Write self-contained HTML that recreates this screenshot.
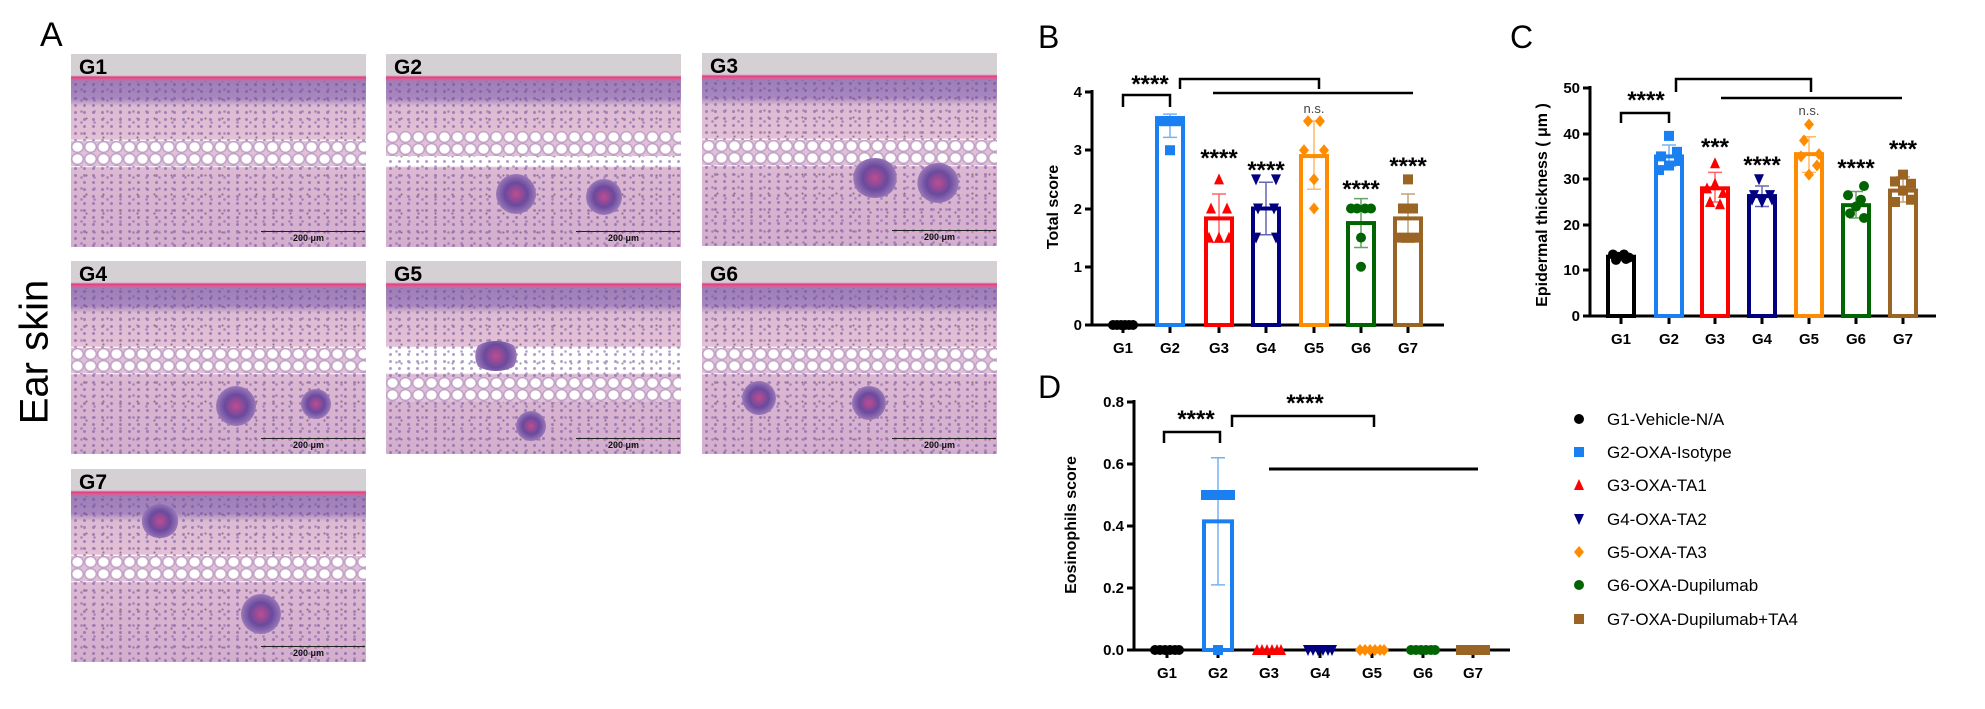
<!DOCTYPE html>
<html><head><meta charset="utf-8">
<style>
html,body{margin:0;padding:0;background:#fff;}
body{width:1985px;height:709px;position:relative;overflow:hidden;font-family:"Liberation Sans",Arial,sans-serif;}
.img{position:absolute;width:295px;height:193px;overflow:hidden;
background:
 linear-gradient(to bottom,#d4d0d4 0,#d4d0d4 11%,#e0407f 12%,#e25a95 13%,#9f7db6 14%,#a886bf 23%,#dcbad2 27%,#e3c0d5 44%,rgba(0,0,0,0) 45%,rgba(0,0,0,0) 58%,#dcb8d2 59%,#d4aece 100%);
}
.img .sp{position:absolute;left:0;right:0;top:14%;bottom:0;
background-image:
 radial-gradient(circle,#6a4e9a 0,#6a4e9a 1.2px,rgba(0,0,0,0) 1.8px),
 radial-gradient(circle,#7a5aa8 0,#7a5aa8 1px,rgba(0,0,0,0) 1.6px),
 radial-gradient(circle,#5a3a3a 0,#5a3a3a 0.8px,rgba(0,0,0,0) 1.3px);
background-size:9px 7px,13px 11px,17px 19px;background-position:0 0,4px 3px,7px 9px;opacity:0.55;}
.img .fat{position:absolute;left:0;right:0;top:45%;height:13%;
background:#f3eaf1;
background-image:radial-gradient(ellipse at 50% 50%,#ffffff 0,#ffffff 48%,#b995c0 62%,#e0c2d8 78%);
background-size:13px 12px;}
.img .b1,.img .b2{position:absolute;border-radius:50%;background:radial-gradient(circle,#c04c90 0,#6a4a9e 40%,#9a78b8 70%,rgba(0,0,0,0) 72%);}
.img .lab{position:absolute;left:8px;top:2px;font-weight:bold;font-size:21px;color:#000;}
.img .sb{position:absolute;left:190px;width:104px;top:177px;border-top:1.5px solid #222;}
.img .sbt{position:absolute;left:222px;top:179px;font-size:9px;font-weight:bold;color:#111;}
svg text{font-family:"Liberation Sans",Arial,sans-serif;}
.st{font-weight:bold;}
</style></head><body>

<div style="position:absolute;left:40px;top:16px;font-size:34px;">A</div>
<div style="position:absolute;left:35px;top:352px;transform:translate(-50%,-50%) rotate(-90deg);font-size:40px;white-space:nowrap;">Ear skin</div>

<div class="img" style="left:71px;top:54px;"><div class="sp"></div><div class="fat"></div><div class="lab">G1</div><div class="sb"></div><div class="sbt">200 μm</div></div>
<div class="img" style="left:386px;top:54px;"><div class="sp"></div><div class="fat" style="top:40%"></div><div class="b1" style="left:110px;top:120px;width:40px;height:40px"></div><div class="b2" style="left:200px;top:125px;width:36px;height:36px"></div><div class="lab">G2</div><div class="sb"></div><div class="sbt">200 μm</div></div>
<div class="img" style="left:702px;top:53px;"><div class="sp"></div><div class="fat"></div><div class="b1" style="left:150px;top:105px;width:46px;height:40px"></div><div class="b2" style="left:215px;top:110px;width:42px;height:40px"></div><div class="lab">G3</div><div class="sb"></div><div class="sbt">200 μm</div></div>
<div class="img" style="left:71px;top:261px;"><div class="sp"></div><div class="fat"></div><div class="b1" style="left:145px;top:125px;width:40px;height:40px"></div><div class="b2" style="left:230px;top:128px;width:30px;height:30px"></div><div class="lab">G4</div><div class="sb"></div><div class="sbt">200 μm</div></div>
<div class="img" style="left:386px;top:261px;"><div class="sp"></div><div class="fat" style="top:60%"></div><div class="b1" style="left:85px;top:80px;width:50px;height:30px"></div><div class="b2" style="left:130px;top:150px;width:30px;height:30px"></div><div class="lab">G5</div><div class="sb"></div><div class="sbt">200 μm</div></div>
<div class="img" style="left:702px;top:261px;"><div class="sp"></div><div class="fat"></div><div class="b1" style="left:150px;top:125px;width:34px;height:34px"></div><div class="b2" style="left:40px;top:120px;width:34px;height:34px"></div><div class="lab">G6</div><div class="sb"></div><div class="sbt">200 μm</div></div>
<div class="img" style="left:71px;top:469px;"><div class="sp"></div><div class="fat"></div><div class="b1" style="left:70px;top:35px;width:38px;height:34px"></div><div class="b2" style="left:170px;top:125px;width:40px;height:40px"></div><div class="lab">G7</div><div class="sb"></div><div class="sbt">200 μm</div></div>

<svg id="s" width="1985" height="709" style="position:absolute;left:0;top:0" xmlns="http://www.w3.org/2000/svg">
<g font-size="32"><text x="1038" y="48">B</text><text x="1510" y="48">C</text><text x="1038" y="398">D</text></g>

<g stroke="#000" stroke-width="3" fill="none">
<path d="M1092,90 V325 H1444"/>
<path d="M1085,92 H1092 M1085,150 H1092 M1085,209 H1092 M1085,267 H1092 M1085,325 H1092"/>
<path d="M1123,325 v8 M1170,325 v8 M1219,325 v8 M1266,325 v8 M1314,325 v8 M1361,325 v8 M1408,325 v8"/>
<path d="M1123,107 V95 H1170 V107 M1180,89 V79 H1319 V89 M1213,93 H1413" stroke-width="2.5"/>
</g>
<g font-size="15" font-weight="bold" text-anchor="end"><text x="1082" y="97">4</text><text x="1082" y="155">3</text><text x="1082" y="214">2</text><text x="1082" y="272">1</text><text x="1082" y="330">0</text></g>
<g font-size="15" font-weight="bold" text-anchor="middle"><text x="1123" y="353">G1</text><text x="1170" y="353">G2</text><text x="1219" y="353">G3</text><text x="1266" y="353">G4</text><text x="1314" y="353">G5</text><text x="1361" y="353">G6</text><text x="1408" y="353">G7</text></g>
<text transform="translate(1058,207) rotate(-90)" font-size="16" font-weight="bold" text-anchor="middle">Total score</text>
<g font-size="24" text-anchor="middle" class="st"><text x="1150" y="92">****</text><text x="1219" y="166">****</text><text x="1266" y="178">****</text><text x="1361" y="197">****</text><text x="1408" y="174">****</text></g>
<text x="1314" y="113" font-size="13" fill="#444" text-anchor="middle">n.s.</text>

<g stroke="#000" stroke-width="3" fill="none">
<path d="M1590,86 V316 H1936"/>
<path d="M1583,88 H1590 M1583,134 H1590 M1583,179 H1590 M1583,225 H1590 M1583,270 H1590 M1583,316 H1590"/>
<path d="M1621,316 v8 M1669,316 v8 M1715,316 v8 M1762,316 v8 M1809,316 v8 M1856,316 v8 M1903,316 v8"/>
<path d="M1621,123 V113 H1669 V123 M1676,92 V79 H1811 V92 M1721,98 H1902" stroke-width="2.5"/>
</g>
<g font-size="15" font-weight="bold" text-anchor="end"><text x="1580" y="93">50</text><text x="1580" y="139">40</text><text x="1580" y="184">30</text><text x="1580" y="230">20</text><text x="1580" y="275">10</text><text x="1580" y="321">0</text></g>
<g font-size="15" font-weight="bold" text-anchor="middle"><text x="1621" y="344">G1</text><text x="1669" y="344">G2</text><text x="1715" y="344">G3</text><text x="1762" y="344">G4</text><text x="1809" y="344">G5</text><text x="1856" y="344">G6</text><text x="1903" y="344">G7</text></g>
<text transform="translate(1547,205) rotate(-90)" font-size="16" font-weight="bold" text-anchor="middle">Epidermal thickness ( μm )</text>
<g font-size="24" text-anchor="middle" class="st"><text x="1646" y="108">****</text><text x="1715" y="155">***</text><text x="1762" y="173">****</text><text x="1856" y="176">****</text><text x="1903" y="157">***</text></g>
<text x="1809" y="115" font-size="13" fill="#444" text-anchor="middle">n.s.</text>

<g stroke="#000" stroke-width="3" fill="none">
<path d="M1134,400 V650 H1510"/>
<path d="M1127,402 H1134 M1127,464 H1134 M1127,526 H1134 M1127,588 H1134 M1127,650 H1134"/>
<path d="M1167,650 v8 M1218,650 v8 M1269,650 v8 M1320,650 v8 M1372,650 v8 M1423,650 v8 M1473,650 v8"/>
<path d="M1164,443 V432 H1220 V443 M1232,427 V416 H1374 V427" stroke-width="2.5"/>
<path d="M1269,469 H1478" stroke-width="3"/>
</g>
<g font-size="15" font-weight="bold" text-anchor="end"><text x="1124" y="407">0.8</text><text x="1124" y="469">0.6</text><text x="1124" y="531">0.4</text><text x="1124" y="593">0.2</text><text x="1124" y="655">0.0</text></g>
<g font-size="15" font-weight="bold" text-anchor="middle"><text x="1167" y="678">G1</text><text x="1218" y="678">G2</text><text x="1269" y="678">G3</text><text x="1320" y="678">G4</text><text x="1372" y="678">G5</text><text x="1423" y="678">G6</text><text x="1473" y="678">G7</text></g>
<text transform="translate(1076,525) rotate(-90)" font-size="16" font-weight="bold" text-anchor="middle">Eosinophils score</text>
<g font-size="24" text-anchor="middle" class="st"><text x="1196" y="427">****</text><text x="1305" y="411">****</text></g>

<g font-size="17">
<text x="1607" y="425">G1-Vehicle-N/A</text>
<text x="1607" y="458">G2-OXA-Isotype</text>
<text x="1607" y="491">G3-OXA-TA1</text>
<text x="1607" y="525">G4-OXA-TA2</text>
<text x="1607" y="558">G5-OXA-TA3</text>
<text x="1607" y="591">G6-OXA-Dupilumab</text>
<text x="1607" y="625">G7-OXA-Dupilumab+TA4</text>
</g>
<g id="dyn"></g>
</svg>

<script>
(function(){
var NS="http://www.w3.org/2000/svg",g=document.getElementById("dyn");
var C=["#000","#1a7ff0","#ff0000","#000080","#ff8c00","#006400","#9a6424"];
var SH=["c","s","t","v","d","c","s"];
function el(n,a){var e=document.createElementNS(NS,n);for(var k in a)e.setAttribute(k,a[k]);g.appendChild(e);return e;}
function mk(sh,x,y,col,r){r=r||5;
 if(sh=="c")el("circle",{cx:x,cy:y,r:r,fill:col});
 else if(sh=="s")el("rect",{x:x-r,y:y-r,width:2*r,height:2*r,fill:col});
 else if(sh=="t")el("path",{d:"M"+x+","+(y-r-1)+" L"+(x+r)+","+(y+r)+" L"+(x-r)+","+(y+r)+"Z",fill:col});
 else if(sh=="v")el("path",{d:"M"+x+","+(y+r+1)+" L"+(x+r)+","+(y-r)+" L"+(x-r)+","+(y-r)+"Z",fill:col});
 else el("path",{d:"M"+x+","+(y-r-1)+" L"+(x+r)+","+y+" L"+x+","+(y+r+1)+" L"+(x-r)+","+y+"Z",fill:col});
}
function chart(xs,yf,base,means,errs,pts,w){
 for(var i=0;i<7;i++){
  var x=xs[i],col=C[i];
  if(means[i]>0){var top=yf(means[i]);el("rect",{x:x-w/2+2,y:top,width:w-4,height:base-top,fill:"none",stroke:col,"stroke-width":4});}
  if(errs[i]){var a=yf(errs[i][0]),b=yf(errs[i][1]);el("path",{d:"M"+x+","+a+"V"+b+"M"+(x-7)+","+a+"h14M"+(x-7)+","+b+"h14",stroke:col,"stroke-width":1.5,opacity:0.6,fill:"none"});}
  var p=pts[i];for(var j=0;j<p.length;j++){mk(SH[i],x+p[j][0],yf(p[j][1]),col);}
 }
}
var yB=function(v){return 325-v*58.25;};
chart([1123,1170,1219,1266,1314,1361,1408],yB,325,[0,3.55,1.83,2.0,2.9,1.75,1.83],
 [null,[3.22,3.62],[1.42,2.25],[1.55,2.45],[2.33,3.5],[1.33,2.17],[1.42,2.25]],
 [[[-10,0],[-6,0],[-2,0],[2,0],[6,0],[10,0]],
  [[-10,3.5],[-5,3.5],[0,3.5],[5,3.5],[10,3.5],[0,3]],
  [[0,2.5],[-8,2],[8,2],[-10,1.5],[0,1.5],[10,1.5]],
  [[-10,2.5],[10,2.5],[-8,2],[8,2],[-10,1.5],[10,1.5]],
  [[-6,3.5],[6,3.5],[-10,3],[10,3],[0,2.5],[0,2]],
  [[-10,2],[-4,2],[4,2],[10,2],[0,1.5],[0,1]],
  [[0,2.5],[-5,2],[5,2],[-10,1.5],[0,1.5],[10,1.5]]],30);
var yC=function(v){return 316-v*4.56;};
chart([1621,1669,1715,1762,1809,1856,1903],yC,316,[13,35,28,26.3,35.5,24.3,27.5],
 [null,[32.8,37.5],[25,31.5],[24,28.5],[31.5,39.3],[21.5,27.3],[25,30.5]],
 [[[-8,13.5],[-3,13],[3,13.5],[8,12.8],[-5,12.3],[5,12.5]],
  [[0,39.5],[-8,35],[8,36],[-10,32],[0,33],[10,34]],
  [[0,33.5],[-8,28],[8,27],[-5,25],[5,24.5],[0,29]],
  [[-3,30],[-8,26.5],[8,26.5],[0,25],[-10,25.5],[10,25.5]],
  [[0,42],[-5,38.5],[-8,35],[8,33],[0,31],[10,35.5]],
  [[8,28.5],[-8,26.5],[5,25.5],[-6,22.5],[8,21.5],[0,24]],
  [[0,31],[-8,29.5],[8,29],[0,27.5],[-8,25],[8,25.5]]],30);
var yD=function(v){return 650-v*310;};
chart([1167,1218,1269,1320,1372,1423,1473],yD,650,[0,0.415,0,0,0,0,0],
 [null,[0.21,0.62],null,null,null,null,null],
 [[[-12,0],[-7,0],[-2,0],[3,0],[8,0],[12,0]],
  [[-12,0.5],[-6,0.5],[0,0.5],[6,0.5],[12,0.5],[0,0]],
  [[-12,0],[-7,0],[-2,0],[3,0],[8,0],[12,0]],
  [[-12,0],[-7,0],[-2,0],[3,0],[8,0],[12,0]],
  [[-12,0],[-7,0],[-2,0],[3,0],[8,0],[12,0]],
  [[-12,0],[-7,0],[-2,0],[3,0],[8,0],[12,0]],
  [[-12,0],[-7,0],[-2,0],[3,0],[8,0],[12,0]]],32);
var ly=[419,452,485,519,552,585,619];
for(var i=0;i<7;i++)mk(SH[i],1579,ly[i],C[i],5);
})();
</script>
</body></html>
